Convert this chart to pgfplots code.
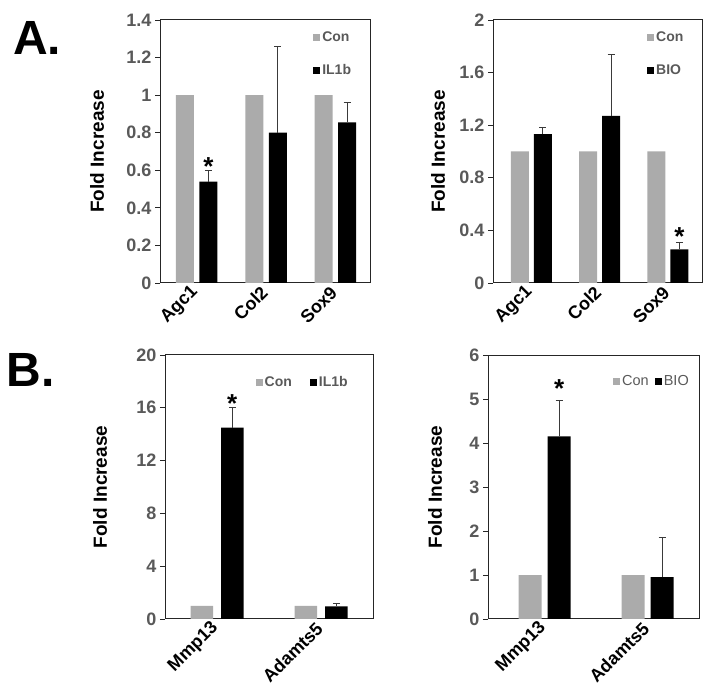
\documentclass[border=0pt]{standalone}
\usepackage{fontspec}
\setmainfont{Liberation Sans}
\usepackage{pgfplots}
\pgfplotsset{compat=1.18}
\definecolor{congray}{HTML}{ABABAB}
\definecolor{tickgray}{HTML}{595959}
\definecolor{errc}{HTML}{3A3A3A}
\tikzset{mystar/.style={font=\fontsize{26}{26}\selectfont\bfseries, anchor=base, inner sep=0pt, yshift=-15pt}}
\newcommand{\lgt}[1]{\textcolor{tickgray}{#1}}
\pgfplotsset{
  baseA/.style={
    scale only axis,
    ybar,
    ymin=0,
    axis line style={black!85, line width=1pt},
    legend image code/.code={\fill[##1, draw=none] (0pt,-3.5pt) rectangle (7pt,3.5pt);},
    ylabel={Fold Increase},
    ytick pos=left, tick align=outside, major tick length=5pt,
    x tick style={draw=none}, y tick style={black!85, line width=0.8pt},
    /pgf/number format/assume math mode=true,
    ylabel style={font=\fontsize{19}{21}\selectfont\bfseries, at={(axis description cs:0,0.5)}, anchor=center},
    yticklabel style={font=\fontsize{18}{20}\selectfont\bfseries, text=tickgray},
    xticklabel style={font=\fontsize{18}{20}\selectfont\bfseries, rotate=45, anchor=east, inner sep=2pt},
  },
  errs/.style={error bars/.cd, y dir=plus, y explicit,
    error bar style={errc, line width=0.8pt},
    error mark options={rotate=90, mark size=3.5pt, errc, line width=0.8pt}},
}
\begin{document}
\begin{tikzpicture}
\useasboundingbox (0pt,0pt) rectangle (705pt,694pt);
\node[font=\fontsize{48}{48}\selectfont\bfseries, anchor=base west, inner sep=0pt] at (13pt,639pt) {A.};
\node[font=\fontsize{48}{48}\selectfont\bfseries, anchor=base west, inner sep=0pt] at (6.5pt,307pt) {B.};

% A1
\begin{axis}[baseA, at={(160pt,411pt)}, anchor=south west,
  width=210pt, height=263pt, xmin=-0.53, xmax=2.5, ymax=1.4,
  ytick={0,0.2,0.4,0.6,0.8,1,1.2,1.4},
  xtick={0,1,2}, xticklabels={Agc1,Col2,Sox9},
  every axis y label/.append style={yshift=63pt},
  legend style={draw=none, fill=none, font=\fontsize{14}{16}\selectfont\bfseries, inner sep=0pt, legend cell align=left, at={(0.729,0.965)}, anchor=north west, row sep=18pt}]
\addplot[fill=congray, draw=none, bar width=18pt, bar shift=-11.75pt] coordinates {(0,1) (1,1) (2,1)};
\addplot[fill=black, draw=none, bar width=18pt, bar shift=11.75pt, errs] coordinates {(0,0.54) +- (0,0.06) (1,0.80) +- (0,0.46) (2,0.855) +- (0,0.105)};
\legend{\lgt{Con},\lgt{IL1b}}
\node[mystar, xshift=11.75pt] at (axis cs:0,0.65) {*};
\end{axis}

% A2
\begin{axis}[baseA, at={(493pt,411pt)}, anchor=south west,
  width=209pt, height=263pt, xmin=-0.56, xmax=2.5, ymax=2,
  ytick={0,0.4,0.8,1.2,1.6,2},
  xtick={0,1,2}, xticklabels={Agc1,Col2,Sox9},
  every axis y label/.append style={yshift=55pt},
  legend style={draw=none, fill=none, font=\fontsize{14}{16}\selectfont\bfseries, inner sep=0pt, legend cell align=left, at={(0.737,0.965)}, anchor=north west, row sep=18pt}]
\addplot[fill=congray, draw=none, bar width=18pt, bar shift=-11.5pt] coordinates {(0,1) (1,1) (2,1)};
\addplot[fill=black, draw=none, bar width=18pt, bar shift=11.5pt, errs] coordinates {(0,1.133) +- (0,0.05) (1,1.27) +- (0,0.47) (2,0.256) +- (0,0.05)};
\legend{\lgt{Con},\lgt{BIO}}
\node[mystar, xshift=11.5pt] at (axis cs:2,0.403) {*};
\end{axis}

% B1
\begin{axis}[baseA, at={(165pt,75pt)}, anchor=south west,
  width=208pt, height=264pt, xmin=-0.5, xmax=1.5, ymax=20,
  ytick={0,4,8,12,16,20},
  xtick={0,1}, xticklabels={Mmp13,Adamts5},
  every axis y label/.append style={yshift=65pt},
  legend columns=2,
  legend style={draw=none, fill=none, font=\fontsize{14}{16}\selectfont\bfseries, inner sep=0pt, legend cell align=left, at={(0.889,0.897)}, anchor=east, /tikz/every even column/.append style={column sep=16pt}}]
\addplot[fill=congray, draw=none, bar width=22.5pt, bar shift=-15.25pt] coordinates {(0,1) (1,1)};
\addplot[fill=black, draw=none, bar width=22.5pt, bar shift=15.25pt, errs] coordinates {(0,14.5) +- (0,1.5) (1,0.96) +- (0,0.2)};
\legend{\lgt{Con},\lgt{IL1b}}
\node[mystar, xshift=15.25pt] at (axis cs:0,16.77) {*};
\end{axis}

% B2
\begin{axis}[baseA, at={(488pt,75pt)}, anchor=south west,
  width=211pt, height=264pt, xmin=-0.55, xmax=1.5, ymax=6,
  ytick={0,1,2,3,4,5,6},
  xtick={0,1}, xticklabels={Mmp13,Adamts5},
  every axis y label/.append style={yshift=53pt},
  legend columns=2,
  legend style={draw=none, fill=none, font=\fontsize{14.5}{16}\selectfont, inner sep=0pt, legend cell align=left, at={(0.962,0.899)}, anchor=east, /tikz/every even column/.append style={column sep=4pt}}]
\addplot[fill=congray, draw=none, bar width=23pt, bar shift=-14.5pt] coordinates {(0,1) (1,1)};
\addplot[fill=black, draw=none, bar width=23pt, bar shift=14.5pt, errs] coordinates {(0,4.15) +- (0,0.82) (1,0.95) +- (0,0.91)};
\legend{\lgt{Con},\lgt{BIO}}
\node[mystar, xshift=14.5pt] at (axis cs:0,5.38) {*};
\end{axis}
\end{tikzpicture}
\end{document}
